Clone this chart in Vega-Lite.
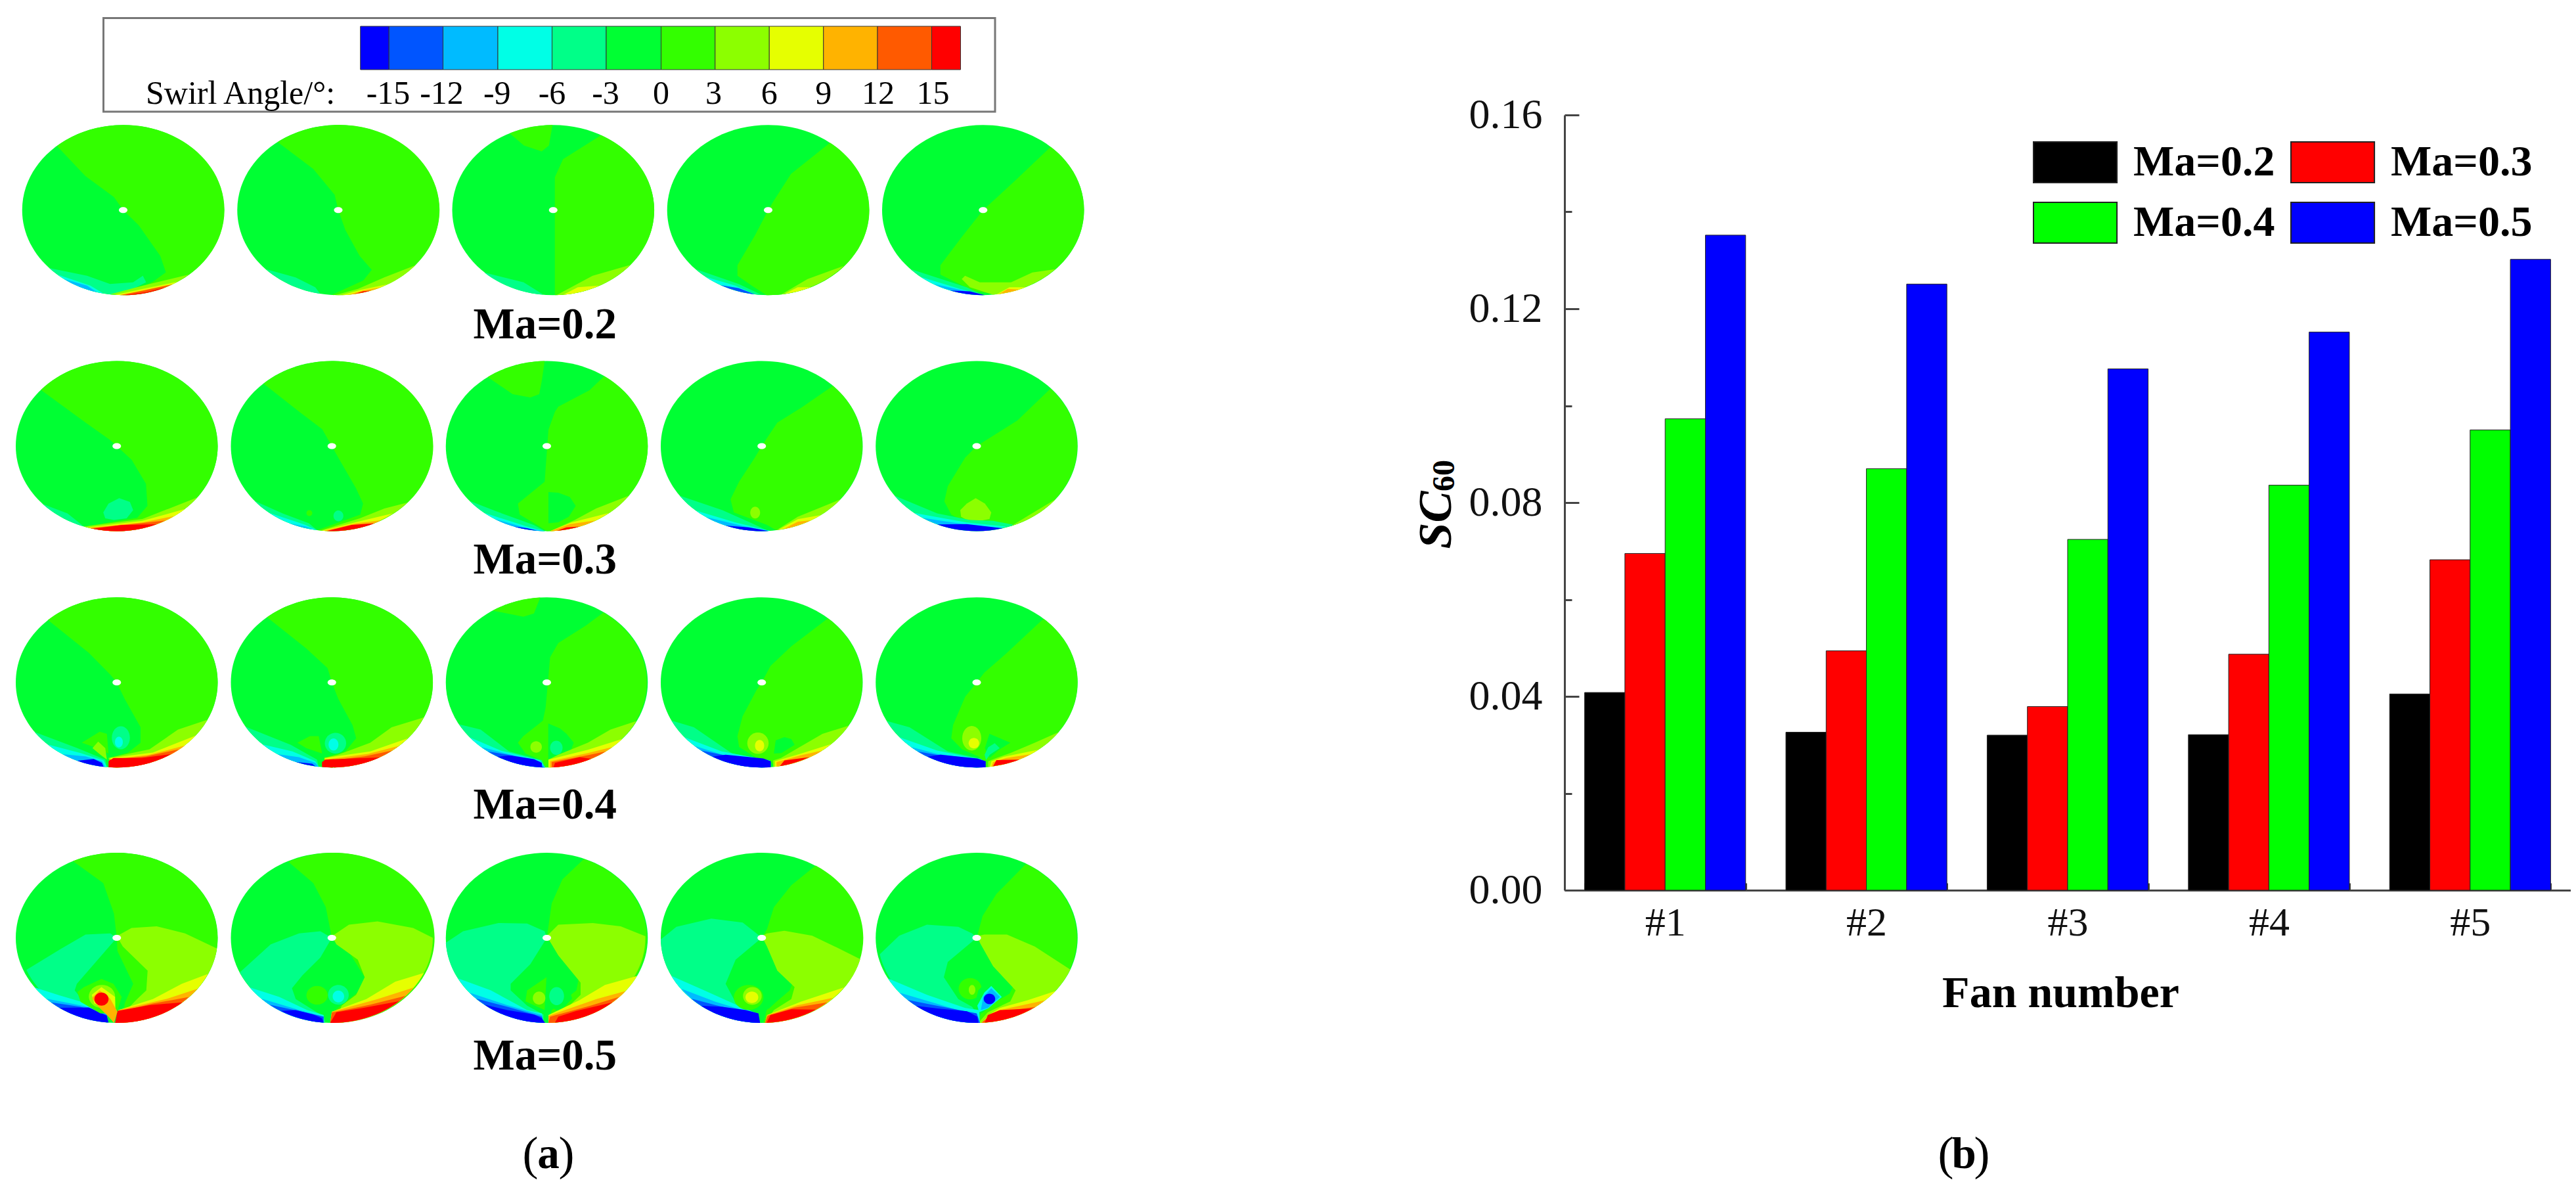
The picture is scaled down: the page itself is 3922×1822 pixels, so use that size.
{"$schema":"https://vega.github.io/schema/vega-lite/v6.json","background":"white","padding":0,"bounds":"flush","spacing":682,
"resolve":{"scale":{"color":"independent"}},
"config":{"view":{"stroke":null},"font":"Liberation Serif"},
"datasets":{
"panels":[{"x":75,"y":127.9},{"x":206,"y":127.9},{"x":336.9,"y":127.9},{"x":467.8,"y":127.9},{"x":598.7,"y":127.9},{"x":71.1,"y":271.6},{"x":202.1,"y":271.6},{"x":333,"y":271.6},{"x":463.9,"y":271.6},{"x":594.8,"y":271.6},{"x":71.1,"y":415.5},{"x":202.1,"y":415.5},{"x":333,"y":415.5},{"x":463.9,"y":415.5},{"x":594.8,"y":415.5},{"x":71.1,"y":571},{"x":202.1,"y":571},{"x":333,"y":571},{"x":463.9,"y":571},{"x":594.8,"y":571}],
"bar":[{"x":219.5,"x2":236.9,"y":16,"y2":42.4,"v":-16},{"x":236.9,"x2":269.8,"y":16,"y2":42.4,"v":-13.5},{"x":269.8,"x2":303.2,"y":16,"y2":42.4,"v":-10.5},{"x":303.2,"x2":336.2,"y":16,"y2":42.4,"v":-7.5},{"x":336.2,"x2":369.2,"y":16,"y2":42.4,"v":-4.5},{"x":369.2,"x2":402.6,"y":16,"y2":42.4,"v":-1.5},{"x":402.6,"x2":435.5,"y":16,"y2":42.4,"v":1.5},{"x":435.5,"x2":468.5,"y":16,"y2":42.4,"v":4.5},{"x":468.5,"x2":501.5,"y":16,"y2":42.4,"v":7.5},{"x":501.5,"x2":534.4,"y":16,"y2":42.4,"v":10.5},{"x":534.4,"x2":567.4,"y":16,"y2":42.4,"v":13.5},{"x":567.4,"x2":585,"y":16,"y2":42.4,"v":16}],
"regions":[
{"x":75,"y":127.9,"v":1.5,"d":"M-40.3 -39A61.5 51.8 0 1 1 0 51.8L18.2 43.6L26 37.9L22.6 27.9L9.5 9.3L0 0L-5.6 -7.9L-23 -20.7Z"},
{"x":75,"y":127.9,"v":-4.5,"d":"M-45 35.3A61.5 51.8 0 0 0 -4 51.7L6 48L14 44L12 40L6 44L-8 45L-22 40Z"},
{"x":75,"y":127.9,"v":-7.5,"d":"M-40 39.3A61.5 51.8 0 0 0 -12 50.8L-20 46Z"},
{"x":75,"y":127.9,"v":-10.5,"d":"M-36 42A61.5 51.8 0 0 0 -16 50L-22 46Z"},
{"x":75,"y":127.9,"v":4.5,"d":"M40 39.3A61.5 51.8 0 0 1 -8 51.3L12 46Z"},
{"x":75,"y":127.9,"v":7.5,"d":"M33 43.7A61.5 51.8 0 0 1 -5 51.6L12 48Z"},
{"x":75,"y":127.9,"v":13.5,"d":"M30 45.2A61.5 51.8 0 0 1 -2 51.8L12 49Z"},
{"x":75,"y":127.9,"v":16,"d":"M26 47A61.5 51.8 0 0 1 1 51.8L14 50Z"},
{"x":206,"y":127.9,"v":1.5,"d":"M-36.9 -41.4A61.5 51.8 0 1 1 -4 51.6L15.2 42.9L20.4 36.4L13 27.9L4.3 12.1L0 0L-2.2 -9.3L-15.2 -25Z"},
{"x":206,"y":127.9,"v":-4.5,"d":"M-44 36A61.5 51.8 0 0 0 -11 51L-14 47L-26 41Z"},
{"x":206,"y":127.9,"v":4.5,"d":"M47 33.6A61.5 51.8 0 0 1 -2 51.8L12 48L28 41Z"},
{"x":206,"y":127.9,"v":7.5,"d":"M30 45.2A61.5 51.8 0 0 1 2 51.8L14 48.5Z"},
{"x":206,"y":127.9,"v":10.5,"d":"M26 47A61.5 51.8 0 0 1 6 51.6L15 49Z"},
{"x":206,"y":127.9,"v":16,"d":"M20 49A61.5 51.8 0 0 1 10 51L15 49.5Z"},
{"x":336.9,"y":127.9,"v":1.5,"d":"M29.2 -45.6A61.5 51.8 0 0 1 1 51.8L1 10L1 -20L6 -31Z"},
{"x":336.9,"y":127.9,"v":1.5,"d":"M-26.5 -46.7A61.5 51.8 0 0 1 -.4 -51.8L-2.6 -39.3L-7 -35.7L-17.8 -39.3Z"},
{"x":336.9,"y":127.9,"v":-4.5,"d":"M-42 38A61.5 51.8 0 0 0 -6 51.5L-18 44Z"},
{"x":336.9,"y":127.9,"v":4.5,"d":"M47 33.4A61.5 51.8 0 0 1 2 51.8L24 40Z"},
{"x":336.9,"y":127.9,"v":7.5,"d":"M28 46A61.5 51.8 0 0 1 6 51.6L15 47Z"},
{"x":467.8,"y":127.9,"v":1.5,"d":"M37.7 -41A61.5 51.8 0 0 1 -1 51.8L-10 46L-18.7 40L-18.7 33.6L-7.8 15L0 0L3 -5L13.9 -22Z"},
{"x":467.8,"y":127.9,"v":-4.5,"d":"M-44 36A61.5 51.8 0 0 0 -4 51.6L-18 45Z"},
{"x":467.8,"y":127.9,"v":-7.5,"d":"M-38 40.7A61.5 51.8 0 0 0 -8 51.3L-20 46Z"},
{"x":467.8,"y":127.9,"v":-13.5,"d":"M-29 45.7A61.5 51.8 0 0 0 -8 51.3L-18 47.5Z"},
{"x":467.8,"y":127.9,"v":4.5,"d":"M46 34A61.5 51.8 0 0 1 8 51.4L24 42Z"},
{"x":467.8,"y":127.9,"v":7.5,"d":"M26 47A61.5 51.8 0 0 1 10 51L18 47Z"},
{"x":598.7,"y":127.9,"v":1.5,"d":"M41.2 -38.5A61.5 51.8 0 0 1 8 51.3L-6 49.3L-26 39.3L-26 33.6L-13 16.4L0 0L19.5 -17.9Z"},
{"x":598.7,"y":127.9,"v":4.5,"d":"M44 36A61.5 51.8 0 0 1 6 51.5L-8 47L-13 42L-11 40L-2 44L17 44L30 38Z"},
{"x":598.7,"y":127.9,"v":-4.5,"d":"M-44 36A61.5 51.8 0 0 0 0 51.8L-10 47Z"},
{"x":598.7,"y":127.9,"v":-7.5,"d":"M-38 40.7A61.5 51.8 0 0 0 0 51.8L-14 48Z"},
{"x":598.7,"y":127.9,"v":-10.5,"d":"M-30 45A61.5 51.8 0 0 0 0 51.8L-12 49Z"},
{"x":598.7,"y":127.9,"v":-16,"d":"M-20 49A61.5 51.8 0 0 0 1 51.8L-8 49.5Z"},
{"x":598.7,"y":127.9,"v":7.5,"d":"M26 47A61.5 51.8 0 0 1 8 51.4L16 47Z"},
{"x":598.7,"y":127.9,"v":10.5,"d":"M22 48.4A61.5 51.8 0 0 1 10 51L15 48Z"},

{"x":71.1,"y":271.6,"v":1.5,"d":"M-46.2 -34.2A61.5 51.8 0 1 1 -20 49L12.4 43.7L18.7 36.4L17.8 23L9.1 8.4L0 0L-3.9 -3.6L-19 -14.3Z"},
{"x":71.1,"y":271.6,"v":-4.5,"d":"M1.5 31.7L-5 35L-8.2 40.4L-7 44L-1.7 45L6 44L10 39L8 34Z"},
{"x":71.1,"y":271.6,"v":-4.5,"d":"M-45 35.3A61.5 51.8 0 0 0 -20 49L-30 41Z"},
{"x":71.1,"y":271.6,"v":4.5,"d":"M49 31.3A61.5 51.8 0 0 1 -20 49L15.6 44.4Z"},
{"x":71.1,"y":271.6,"v":7.5,"d":"M41.6 38.3A61.5 51.8 0 0 1 -18 49.5L15.6 45.5Z"},
{"x":71.1,"y":271.6,"v":10.5,"d":"M35 42.6A61.5 51.8 0 0 1 -17 49.8L15.6 46.5Z"},
{"x":71.1,"y":271.6,"v":13.5,"d":"M29.7 45.3A61.5 51.8 0 0 1 -16 50L13.4 47.1Z"},
{"x":71.1,"y":271.6,"v":16,"d":"M24.3 47.6A61.5 51.8 0 0 1 -14.3 50.4L2.6 48.1Z"},
{"x":202.1,"y":271.6,"v":1.5,"d":"M-41.6 -38A61.5 51.8 0 1 1 -9 51.2L17.3 41.7L19 35L14.7 25.7L3.9 7L0 0L-5.9 -10.3L-20 -21Z"},
{"x":202.1,"y":271.6,"v":-4.5,"d":"M1 42.5A3 3.3 0 1 1 7 42.5A3 3.3 0 1 1 1 42.5Z"},
{"x":202.1,"y":271.6,"v":1.5,"d":"M-15.5 40.8A1.8 1.8 0 1 1 -11.9 40.8A1.8 1.8 0 1 1 -15.5 40.8Z"},
{"x":202.1,"y":271.6,"v":-4.5,"d":"M-47 33.4A61.5 51.8 0 0 0 -9 51.2L-14 47L-30 41Z"},
{"x":202.1,"y":271.6,"v":-7.5,"d":"M-38 40.7A61.5 51.8 0 0 0 -9 51.2L-16 48Z"},
{"x":202.1,"y":271.6,"v":-10.5,"d":"M-26 47A61.5 51.8 0 0 0 -11 50.6L-16 49Z"},
{"x":202.1,"y":271.6,"v":4.5,"d":"M46 34.4A61.5 51.8 0 0 1 -7 51.4L17 44L32 38Z"},
{"x":202.1,"y":271.6,"v":7.5,"d":"M37 41A61.5 51.8 0 0 1 -6 51.5L16 46Z"},
{"x":202.1,"y":271.6,"v":10.5,"d":"M30 45.2A61.5 51.8 0 0 1 -5 51.6L15 47Z"},
{"x":202.1,"y":271.6,"v":16,"d":"M26 47A61.5 51.8 0 0 1 -3 51.7L12 48Z"},
{"x":333,"y":271.6,"v":1.5,"d":"M35 -42.6A61.5 51.8 0 0 1 0 51.8L-6 48L-16.5 41.7L-17.6 35L-7.8 27L-1.3 21.7L1 -10L5 -21L7 -24L26 -34Z"},
{"x":333,"y":271.6,"v":1.5,"d":"M-36 -42A61.5 51.8 0 0 1 -1.3 -51.8L-3 -40L-4.6 -31.6L-10 -29.6L-20.8 -31.6Z"},
{"x":333,"y":271.6,"v":-1.5,"d":"M1 28L7 28.4L14 31L17.6 36.4L13.4 43L7 46.4L1 47Z"},
{"x":333,"y":271.6,"v":-4.5,"d":"M-47 33.4A61.5 51.8 0 0 0 -1 51.8L-8 48L-30 40Z"},
{"x":333,"y":271.6,"v":-7.5,"d":"M-38 40.7A61.5 51.8 0 0 0 -1 51.8L-12 49Z"},
{"x":333,"y":271.6,"v":-10.5,"d":"M-32 44.3A61.5 51.8 0 0 0 -1 51.8L-12 50Z"},
{"x":333,"y":271.6,"v":-16,"d":"M-20 49A61.5 51.8 0 0 0 -6 51.5L-12 50Z"},
{"x":333,"y":271.6,"v":4.5,"d":"M50 30.2A61.5 51.8 0 0 1 2 51.8L17 45L30 38Z"},
{"x":333,"y":271.6,"v":7.5,"d":"M38 40.7A61.5 51.8 0 0 1 2 51.8L15 46.5Z"},
{"x":333,"y":271.6,"v":10.5,"d":"M30 45.2A61.5 51.8 0 0 1 2 51.8L14 47.5Z"},
{"x":333,"y":271.6,"v":16,"d":"M20 49A61.5 51.8 0 0 1 6 51.6L12 49.5Z"},
{"x":463.9,"y":271.6,"v":1.5,"d":"M43.4 -36.7A61.5 51.8 0 0 1 8.5 51.1L3.2 48L-17 40.4L-19 32.4L-13.8 21.7L-4.2 7L0 0L3.2 -4.9L9.5 -14.3L24.4 -23.6Z"},
{"x":463.9,"y":271.6,"v":4.5,"d":"M-7 40.5A3 3.6 0 1 1 -1 40.5A3 3.6 0 1 1 -7 40.5Z"},
{"x":463.9,"y":271.6,"v":-4.5,"d":"M-50 30.2A61.5 51.8 0 0 0 4 51.7L-6 47L-24 39Z"},
{"x":463.9,"y":271.6,"v":-7.5,"d":"M-40 39.3A61.5 51.8 0 0 0 5 51.6L-16 46.5Z"},
{"x":463.9,"y":271.6,"v":-10.5,"d":"M-34 43.2A61.5 51.8 0 0 0 5 51.6L-10 49Z"},
{"x":463.9,"y":271.6,"v":-16,"d":"M-22 48.4A61.5 51.8 0 0 0 4 51.7L-8 49.5Z"},
{"x":463.9,"y":271.6,"v":4.5,"d":"M48 32.4A61.5 51.8 0 0 1 9 51.2L22 43Z"},
{"x":463.9,"y":271.6,"v":7.5,"d":"M36 42A61.5 51.8 0 0 1 10 51L22 44.5Z"},
{"x":463.9,"y":271.6,"v":10.5,"d":"M30 45.2A61.5 51.8 0 0 1 13 50.6L22 46Z"},
{"x":594.8,"y":271.6,"v":1.5,"d":"M45 -35A61.5 51.8 0 0 1 21 48.7L-7 46.4L-15.5 41.7L-19.7 33.7L-17.6 24.4L-7 7L0 0L5.7 -3.6L24.8 -15.6Z"},
{"x":594.8,"y":271.6,"v":4.5,"d":"M-.6 31.7L-6 35L-10 39L-9.5 43L-6 45L2 45.5L7.8 44.4L8.9 40.4L5 35Z"},
{"x":594.8,"y":271.6,"v":-4.5,"d":"M-50 30.2A61.5 51.8 0 0 0 23 48L10 45.5L-4 45L-24 41Z"},
{"x":594.8,"y":271.6,"v":-7.5,"d":"M-38 40.7A61.5 51.8 0 0 0 18 49L-6 46.5L-20 44Z"},
{"x":594.8,"y":271.6,"v":-10.5,"d":"M-33 43.7A61.5 51.8 0 0 0 14 50L-8 47.5Z"},
{"x":594.8,"y":271.6,"v":-16,"d":"M-24 47.7A61.5 51.8 0 0 0 16 50L-6 47.5Z"},
{"x":594.8,"y":271.6,"v":4.5,"d":"M48 32.4A61.5 51.8 0 0 1 21 48.7L32 42Z"},

{"x":71.1,"y":415.5,"v":1.5,"d":"M-41.9 -38A61.5 51.8 0 1 1 -5 51.6L-5 46L6.9 42.7L14.5 36.7L14.5 27.3L4.8 10L0 0L-3.9 -4.7L-17 -18Z"},
{"x":71.1,"y":415.5,"v":-4.5,"d":"M-3 33.7A5.5 7 0 1 1 8 33.7A5.5 7 0 1 1 -3 33.7Z"},
{"x":71.1,"y":415.5,"v":-7.5,"d":"M-1.1 36.3A2.4 3.3 0 1 1 3.7 36.3A2.4 3.3 0 1 1 -1.1 36.3Z"},
{"x":71.1,"y":415.5,"v":1.5,"d":"M-21.3 36.7L-10.4 30L-6 31.3L-5 43.3L-14 39.3Z"},
{"x":71.1,"y":415.5,"v":4.5,"d":"M-11.3 36L-14.8 40L-10 44L-6 47L-7 40Z"},
{"x":71.1,"y":415.5,"v":4.5,"d":"M55.3 22.7A61.5 51.8 0 0 1 -3 51.7L-5 46L20 40.7L37.3 28.7Z"},
{"x":71.1,"y":415.5,"v":7.5,"d":"M48 32.4A61.5 51.8 0 0 1 -3 51.7L-4 46L22 42.7Z"},
{"x":71.1,"y":415.5,"v":10.5,"d":"M41.6 38.4A61.5 51.8 0 0 1 -3 51.7L-4 47L20 44Z"},
{"x":71.1,"y":415.5,"v":13.5,"d":"M38 40.7A61.5 51.8 0 0 1 -4 51.7L-4.5 47L18 45Z"},
{"x":71.1,"y":415.5,"v":16,"d":"M33 43.7A61.5 51.8 0 0 1 -5 51.6L-5 48L-2 46L15 46Z"},
{"x":71.1,"y":415.5,"v":-4.5,"d":"M-50 30.2A61.5 51.8 0 0 0 -6 51.5L-7 47L-24 40Z"},
{"x":71.1,"y":415.5,"v":-7.5,"d":"M-42 37.8A61.5 51.8 0 0 0 -6 51.5L-8 47.5L-22 43Z"},
{"x":71.1,"y":415.5,"v":-10.5,"d":"M-33 43.7A61.5 51.8 0 0 0 -7 51.5L-9 48L-19 45Z"},
{"x":71.1,"y":415.5,"v":-16,"d":"M-24 47.7A61.5 51.8 0 0 0 -8 51.4L-9 49L-14 46.6Z"},
{"x":202.1,"y":415.5,"v":1.5,"d":"M-39.5 -39.7A61.5 51.8 0 1 1 -5 51.6L-4.8 46L8.2 42L14.8 34L12.6 26L3.9 10L0 0L-2.6 -8.7L-15.6 -20.7Z"},
{"x":202.1,"y":415.5,"v":-4.5,"d":"M-4.3 37A6.5 6.3 0 1 1 8.7 37A6.5 6.3 0 1 1 -4.3 37Z"},
{"x":202.1,"y":415.5,"v":-7.5,"d":"M-2 37.8A3 3.7 0 1 1 4 37.8A3 3.7 0 1 1 -2 37.8Z"},
{"x":202.1,"y":415.5,"v":1.5,"d":"M-21 36.7L-13.4 32.7L-8 32.7L-5.9 43.3L-15.6 40Z"},
{"x":202.1,"y":415.5,"v":4.5,"d":"M56 21.3A61.5 51.8 0 0 1 -3 51.7L-4.5 46L3.9 44L23.4 36.7L36.4 27.3Z"},
{"x":202.1,"y":415.5,"v":7.5,"d":"M46.3 34A61.5 51.8 0 0 1 -3 51.7L-4.5 46L23.4 42Z"},
{"x":202.1,"y":415.5,"v":10.5,"d":"M41 38.6A61.5 51.8 0 0 1 -3 51.7L-4.5 47L22 43.5Z"},
{"x":202.1,"y":415.5,"v":13.5,"d":"M37 41.4A61.5 51.8 0 0 1 -3 51.7L-5 48L20 45Z"},
{"x":202.1,"y":415.5,"v":16,"d":"M29 45.7A61.5 51.8 0 0 1 -6 51.5L-6 48.5L-4 47L12 46.3Z"},
{"x":202.1,"y":415.5,"v":-4.5,"d":"M-52.5 27A61.5 51.8 0 0 0 -8 51.4L-9 47L-25 38Z"},
{"x":202.1,"y":415.5,"v":-7.5,"d":"M-42 37.8A61.5 51.8 0 0 0 -8 51.4L-10 48L-24 42Z"},
{"x":202.1,"y":415.5,"v":-10.5,"d":"M-33 43.7A61.5 51.8 0 0 0 -8 51.4L-10 49L-20 45.5Z"},
{"x":202.1,"y":415.5,"v":-16,"d":"M-22 48.4A61.5 51.8 0 0 0 -10 51L-12 49.5Z"},
{"x":333,"y":415.5,"v":1.5,"d":"M-33 -43.7A61.5 51.8 0 0 1 -4 -51.7L-7.8 -42L-14.3 -40Z"},
{"x":333,"y":415.5,"v":1.5,"d":"M34.5 -42.6A61.5 51.8 0 0 1 -3 51.7L-3.5 47.3L-13 43.3L-17.6 36.7L-14.3 32.7L-2.4 23.3L-.7 15.3L2 -15.3L7 -24L23.9 -34.7Z"},
{"x":333,"y":415.5,"v":-1.5,"d":"M.9 25L8 28L12 31.3L16.4 36.7L14.4 42L7 46L.9 47Z"},
{"x":333,"y":415.5,"v":-4.5,"d":"M2 39.8A3.8 4.3 0 1 1 9.6 39.8A3.8 4.3 0 1 1 2 39.8Z"},
{"x":333,"y":415.5,"v":4.5,"d":"M-10 39.3A3.5 3.5 0 1 1 -3 39.3A3.5 3.5 0 1 1 -10 39.3Z"},
{"x":333,"y":415.5,"v":4.5,"d":"M54.6 23.5A61.5 51.8 0 0 1 1 51.8L1 47L7 44L25 36.7L38.8 28.7Z"},
{"x":333,"y":415.5,"v":7.5,"d":"M46 34.4A61.5 51.8 0 0 1 1 51.8L1 47L25 41Z"},
{"x":333,"y":415.5,"v":10.5,"d":"M40 39.3A61.5 51.8 0 0 1 2 51.8L2 48L25 43Z"},
{"x":333,"y":415.5,"v":13.5,"d":"M36 42A61.5 51.8 0 0 1 3 51.7L3 48.5L24 44.5Z"},
{"x":333,"y":415.5,"v":16,"d":"M27 46.5A61.5 51.8 0 0 1 4 51.7L5 49L20 45.5Z"},
{"x":333,"y":415.5,"v":-4.5,"d":"M-53.4 25.5A61.5 51.8 0 0 0 -1 51.8L-3 47.3L-23 42L-40.3 28.7Z"},
{"x":333,"y":415.5,"v":-7.5,"d":"M-47 33.4A61.5 51.8 0 0 0 -1 51.8L-4 47.5L-28 41.5Z"},
{"x":333,"y":415.5,"v":-10.5,"d":"M-40 39.3A61.5 51.8 0 0 0 -1 51.8L-4 48L-26 43Z"},
{"x":333,"y":415.5,"v":-13.5,"d":"M-36 42A61.5 51.8 0 0 0 -2 51.8L-5 48.5L-24 44Z"},
{"x":333,"y":415.5,"v":-16,"d":"M-30 45.2A61.5 51.8 0 0 0 -3 51.7L-3 49L-7.8 46.7L-22 44.5Z"},
{"x":463.9,"y":415.5,"v":1.5,"d":"M40.3 -39A61.5 51.8 0 0 1 8 51.3L5 47.3L-3.2 46L-13.8 39.3L-14.8 32.7L-11.7 20.7L-3.2 4.7L0 0L5.3 -10L18 -22Z"},
{"x":463.9,"y":415.5,"v":-1.5,"d":"M13.8 33.3L8.5 35.3L7.4 43.3L12 43L20 38L18 34.5Z"},
{"x":463.9,"y":415.5,"v":4.5,"d":"M-8.8 37A6.5 6.5 0 1 1 4.2 37A6.5 6.5 0 1 1 -8.8 37Z"},
{"x":463.9,"y":415.5,"v":7.5,"d":"M-4.1 38.5A2.8 3.5 0 1 1 1.5 38.5A2.8 3.5 0 1 1 -4.1 38.5Z"},
{"x":463.9,"y":415.5,"v":-4.5,"d":"M-55 23.2A61.5 51.8 0 0 0 5 51.6L5 47.5L-18 43.3L-41.3 27.3Z"},
{"x":463.9,"y":415.5,"v":-7.5,"d":"M-47 33.4A61.5 51.8 0 0 0 5 51.6L5 47.5L-24.4 42Z"},
{"x":463.9,"y":415.5,"v":-10.5,"d":"M-41 38.6A61.5 51.8 0 0 0 5 51.6L5 48L-24 44Z"},
{"x":463.9,"y":415.5,"v":-13.5,"d":"M-37 41.4A61.5 51.8 0 0 0 5 51.6L5 48L-22 44.5Z"},
{"x":463.9,"y":415.5,"v":-16,"d":"M-30 45.2A61.5 51.8 0 0 0 5.5 51.6L5.5 48L1 46.3L-22 44Z"},
{"x":463.9,"y":415.5,"v":4.5,"d":"M53 26.3A61.5 51.8 0 0 1 7 51.4L7 47.5L11.7 46L22 40L37 31.3Z"},
{"x":463.9,"y":415.5,"v":7.5,"d":"M42.4 37.5A61.5 51.8 0 0 1 8 51.4L8 48L24 43.3Z"},
{"x":463.9,"y":415.5,"v":10.5,"d":"M37 41.4A61.5 51.8 0 0 1 9 51.2L9 48.5L24 44.3Z"},
{"x":463.9,"y":415.5,"v":16,"d":"M29 45.5A61.5 51.8 0 0 1 11 51L13.8 47.5Z"},
{"x":594.8,"y":415.5,"v":1.5,"d":"M40.7 -38.8A61.5 51.8 0 0 1 6 51.5L1.5 45.3L-9 40.7L-15.5 34L-14.4 26L-7 8.7L0 0L4.7 -6L18.4 -18Z"},
{"x":594.8,"y":415.5,"v":4.5,"d":"M-8.8 34A5.8 7.5 0 1 1 2.8 34A5.8 7.5 0 1 1 -8.8 34Z"},
{"x":594.8,"y":415.5,"v":7.5,"d":"M-4.9 37A3.2 3.2 0 1 1 1.5 37A3.2 3.2 0 1 1 -4.9 37Z"},
{"x":594.8,"y":415.5,"v":-1.5,"d":"M7.8 31.3L20.5 36.7L14 40.7L7.8 46L5 40Z"},
{"x":594.8,"y":415.5,"v":-4.5,"d":"M11 37L14 40L8 44L5.7 47.3L4.8 44L7 39.5Z"},
{"x":594.8,"y":415.5,"v":-4.5,"d":"M-54.7 23.5A61.5 51.8 0 0 0 5 51.6L3 46.5L-17.6 42L-40.9 27.3Z"},
{"x":594.8,"y":415.5,"v":-7.5,"d":"M-47 33.4A61.5 51.8 0 0 0 5 51.6L3 47L-24 41.5Z"},
{"x":594.8,"y":415.5,"v":-10.5,"d":"M-40 39.3A61.5 51.8 0 0 0 5 51.6L4 47.5L-24 43.5Z"},
{"x":594.8,"y":415.5,"v":-13.5,"d":"M-36 42A61.5 51.8 0 0 0 5 51.6L4 48L-22 44.5Z"},
{"x":594.8,"y":415.5,"v":-16,"d":"M-30 45.2A61.5 51.8 0 0 0 5.5 51.6L5.5 48L.4 46.3L-22 44Z"},
{"x":594.8,"y":415.5,"v":4.5,"d":"M50 30.2A61.5 51.8 0 0 1 7 51.4L7 48L12 46L20.5 43L35.4 36.7Z"},
{"x":594.8,"y":415.5,"v":7.5,"d":"M37.5 41A61.5 51.8 0 0 1 8 51.4L9 48L16.3 45.3Z"},
{"x":594.8,"y":415.5,"v":10.5,"d":"M33 43.7A61.5 51.8 0 0 1 9 51.2L10 48.5L18 46Z"},
{"x":594.8,"y":415.5,"v":16,"d":"M26 47A61.5 51.8 0 0 1 10 51L12 47.3Z"},

{"x":71.1,"y":571,"v":1.5,"d":"M-26.7 -46.7A61.5 51.8 0 1 1 0 51.8L4 48L4.8 40L10 28L.4 8L0 0L-1.7 -14.7L-8.2 -33.3Z"},
{"x":71.1,"y":571,"v":4.5,"d":"M0 -1L9 -6L24.3 -7L41.6 -2.7L61 6.5A61.5 51.8 0 0 1 5 51.6L5 45L12.4 37.3L18 32L18.8 20L3.7 5.3Z"},
{"x":71.1,"y":571,"v":-4.5,"d":"M0 0L-3.9 -2.7L-19 -2L-34 6.7L-55 19.5A61.5 51.8 0 0 0 -6 51.5L-6 46.7L-17 42.7L-25.6 32L-24.3 28L-10.4 12Z"},
{"x":71.1,"y":571,"v":-7.5,"d":"M-50 30.2A61.5 51.8 0 0 0 -6 51.5L-6 46L-18 40L-35 35Z"},
{"x":71.1,"y":571,"v":-10.5,"d":"M-43 37A61.5 51.8 0 0 0 -6 51.5L-6 46.5L-20 41.5Z"},
{"x":71.1,"y":571,"v":-13.5,"d":"M-40 39.3A61.5 51.8 0 0 0 -6 51.5L-6 47L-22 42Z"},
{"x":71.1,"y":571,"v":-16,"d":"M-35 42.6A61.5 51.8 0 0 0 -5 51.6L-6 47.5L-9.3 46L-17 42.4Z"},
{"x":71.1,"y":571,"v":1.5,"d":"M-9.3 25L-20 30L-24 33L-22 39L-10 46L0 46L3 36L-2 28Z"},
{"x":71.1,"y":571,"v":4.5,"d":"M-17 35.7A8 7 0 1 1 -1 35.7A8 7 0 1 1 -17 35.7Z"},
{"x":71.1,"y":571,"v":7.5,"d":"M-9.3 30L-15.2 34.7L-13.7 40L-4 44L-.7 48L-1 36Z"},
{"x":71.1,"y":571,"v":7.5,"d":"M55.5 22A61.5 51.8 0 0 1 -1 51.8L1 44L22 37.3L39.6 28Z"},
{"x":71.1,"y":571,"v":10.5,"d":"M49.2 31A61.5 51.8 0 0 1 -1 51.8L1 44L31 37Z"},
{"x":71.1,"y":571,"v":13.5,"d":"M44 36A61.5 51.8 0 0 1 -1 51.8L1 45L22 40Z"},
{"x":71.1,"y":571,"v":16,"d":"M40 39.3A61.5 51.8 0 0 1 -1 51.8L.4 44.5L20 41Z"},
{"x":71.1,"y":571,"v":10.5,"d":"M-10.4 32L-15.2 36.7L-10.4 42.7L-5 48L-1.7 51.8L.4 45L-4 37Z"},
{"x":71.1,"y":571,"v":16,"d":"M-13.6 37.3A4.3 4 0 1 1 -5 37.3A4.3 4 0 1 1 -13.6 37.3Z"},
{"x":202.1,"y":571,"v":1.5,"d":"M-26.5 -46.3A61.5 51.8 0 1 1 0 51.8L2 44L16 33L20 24L10 8L0 0L-3.7 -18.7L-11.3 -33.3Z"},
{"x":202.1,"y":571,"v":4.5,"d":"M0 -1L10.4 -8L27.8 -10L49.5 -6L61.5 0A61.5 51.8 0 0 1 2 51.8L6 41.3L14.8 34.7L20 24L15.8 13.3L2.8 4Z"},
{"x":202.1,"y":571,"v":-4.5,"d":"M0 0L-7 -4L-20 -2.7L-37.3 4L-56 21A61.5 51.8 0 0 0 -4 51.7L-4.8 48L-11.3 44L-22 37.3L-24.3 30.7L-17.8 22.7L-7 12Z"},
{"x":202.1,"y":571,"v":-7.5,"d":"M-50 30.2A61.5 51.8 0 0 0 -5 51.6L-5 47L-15 44L-32 36Z"},
{"x":202.1,"y":571,"v":-10.5,"d":"M-43 37A61.5 51.8 0 0 0 -5 51.6L-5 48L-18 44.5Z"},
{"x":202.1,"y":571,"v":-13.5,"d":"M-38 40.7A61.5 51.8 0 0 0 -5 51.6L-5 48L-18 45Z"},
{"x":202.1,"y":571,"v":-16,"d":"M-31 44.5A61.5 51.8 0 0 0 -5 51.6L-6 49L-11.3 46.7L-22 44Z"},
{"x":202.1,"y":571,"v":1.5,"d":"M-15.5 35A6.5 5.7 0 1 1 -2.5 35A6.5 5.7 0 1 1 -15.5 35Z"},
{"x":202.1,"y":571,"v":-4.5,"d":"M-2.3 34.7A6.3 6 0 1 1 10.3 34.7A6.3 6 0 1 1 -2.3 34.7Z"},
{"x":202.1,"y":571,"v":-7.5,"d":"M.5 35.7A3.5 3.6 0 1 1 7.5 35.7A3.5 3.6 0 1 1 .5 35.7Z"},
{"x":202.1,"y":571,"v":7.5,"d":"M56 21.4A61.5 51.8 0 0 1 -1 51.8L0 45L21 37.3L38.6 26.7Z"},
{"x":202.1,"y":571,"v":10.5,"d":"M50 30.2A61.5 51.8 0 0 1 -1 51.8L0 45L27.8 37.3Z"},
{"x":202.1,"y":571,"v":13.5,"d":"M45 35.3A61.5 51.8 0 0 1 -1 51.8L0 45.5L23.4 40.7Z"},
{"x":202.1,"y":571,"v":16,"d":"M41 38.6A61.5 51.8 0 0 1 -1 51.8L2.8 45.3L19 42.7Z"},
{"x":333,"y":571,"v":1.5,"d":"M22.6 -48A61.5 51.8 0 0 1 1 51.8L3 44L18 32L20 22L8 10L0 0L3 -21L9.5 -35.6Z"},
{"x":333,"y":571,"v":4.5,"d":"M0 -1L7 -8L28 -9L45 -7L60 -1A61.5 51.8 0 0 1 1 51.8L5 46L11 44L20.6 34.7L20.6 27.3L7 10.7Z"},
{"x":333,"y":571,"v":-4.5,"d":"M0 0L-1.3 -4L-12 -8.7L-29.5 -9L-51 -4L-61.5 3A61.5 51.8 0 0 0 -2 51.8L-2 46.7L-12 41.3L-22 32L-22 28L-10 16Z"},
{"x":333,"y":571,"v":-7.5,"d":"M-54 24.7A61.5 51.8 0 0 0 -2 51.8L-3 46L-12 44L-34 32Z"},
{"x":333,"y":571,"v":-10.5,"d":"M-47 33.4A61.5 51.8 0 0 0 -2 51.8L-3 47L-24 41Z"},
{"x":333,"y":571,"v":-13.5,"d":"M-43 37A61.5 51.8 0 0 0 -2 51.8L-3 48L-24 42Z"},
{"x":333,"y":571,"v":-16,"d":"M-38 40.7A61.5 51.8 0 0 0 -1 51.8L-3 49L-7.8 46.7L-24 44Z"},
{"x":333,"y":571,"v":1.5,"d":"M-.2 24L-12 32L-13 38.7L-1.3 44Z"},
{"x":333,"y":571,"v":4.5,"d":"M-8.5 36.7A3.8 4 0 1 1 -.9 36.7A3.8 4 0 1 1 -8.5 36.7Z"},
{"x":333,"y":571,"v":-1.5,"d":"M5 25L0 34L2 42L8 45L15.4 37L13 29Z"},
{"x":333,"y":571,"v":-4.5,"d":"M1.5 35.5A4.5 5.5 0 1 1 10.5 35.5A4.5 5.5 0 1 1 1.5 35.5Z"},
{"x":333,"y":571,"v":7.5,"d":"M55 23.2A61.5 51.8 0 0 1 1 51.8L1 47L19.8 38L35.4 28.7Z"},
{"x":333,"y":571,"v":10.5,"d":"M48 32.4A61.5 51.8 0 0 1 1 51.8L1 47.5L30.2 37.3Z"},
{"x":333,"y":571,"v":13.5,"d":"M44 36A61.5 51.8 0 0 1 1 51.8L2 48L26 41.5Z"},
{"x":333,"y":571,"v":16,"d":"M40 39.3A61.5 51.8 0 0 1 5 51.6L7 48L18 44.5Z"},
{"x":463.9,"y":571,"v":1.5,"d":"M32.8 -44A61.5 51.8 0 0 1 1 51.8L3 44L17 32L20 24L8 6L0 0L3.2 -5.3L7.4 -18.7L18 -32Z"},
{"x":463.9,"y":571,"v":4.5,"d":"M0 -1L3.2 -2.7L13.8 -4.3L30.7 -1.3L46 6L60 13A61.5 51.8 0 0 1 2 51.8L7.4 44L18 37.3L20 30L9.5 20L3.2 5.3Z"},
{"x":463.9,"y":571,"v":-4.5,"d":"M0 0L-3.2 -2.7L-11.6 -9.3L-30.7 -11.7L-52 -6.7L-61.5 1A61.5 51.8 0 0 0 -1 51.8L-3.2 46.7L-15.9 39.3L-22 28L-15.9 13.3Z"},
{"x":463.9,"y":571,"v":-7.5,"d":"M-55 23.2A61.5 51.8 0 0 0 -1 51.8L-3 46L-15 41L-35 32Z"},
{"x":463.9,"y":571,"v":-10.5,"d":"M-49 31A61.5 51.8 0 0 0 -1 51.8L-3 46.5L-28 39Z"},
{"x":463.9,"y":571,"v":-13.5,"d":"M-43 37A61.5 51.8 0 0 0 -1 51.8L-3 47L-28 41Z"},
{"x":463.9,"y":571,"v":-16,"d":"M-37 41.4A61.5 51.8 0 0 0 -1 51.8L-2 46L-9.5 44L-24 42Z"},
{"x":463.9,"y":571,"v":1.5,"d":"M-17 36.3A9 7.6 0 1 1 1 36.3A9 7.6 0 1 1 -17 36.3Z"},
{"x":463.9,"y":571,"v":4.5,"d":"M-11.4 35.4A5.7 5.4 0 1 1 0 35.4A5.7 5.4 0 1 1 -11.4 35.4Z"},
{"x":463.9,"y":571,"v":7.5,"d":"M-9.9 36.2A3.9 3.5 0 1 1 -2.1 36.2A3.9 3.5 0 1 1 -9.9 36.2Z"},
{"x":463.9,"y":571,"v":-1.5,"d":"M6.4 30L3.2 34.7L4.2 43.3L11.6 36Z"},
{"x":463.9,"y":571,"v":7.5,"d":"M50 30.2A61.5 51.8 0 0 1 2 51.8L3.2 47L24.4 38.7Z"},
{"x":463.9,"y":571,"v":10.5,"d":"M43.4 36.5A61.5 51.8 0 0 1 2 51.8L3.5 47L22 41Z"},
{"x":463.9,"y":571,"v":13.5,"d":"M40 39.3A61.5 51.8 0 0 1 2 51.8L3.5 47.5L20 42.5Z"},
{"x":463.9,"y":571,"v":16,"d":"M33 43.7A61.5 51.8 0 0 1 3 51.7L5.3 47L18 43.5Z"},
{"x":594.8,"y":571,"v":1.5,"d":"M30 -45A61.5 51.8 0 0 1 1 51.8L3 44L20 34L24 26L8 6L0 0L3.6 -13.3L12 -26.7Z"},
{"x":594.8,"y":571,"v":4.5,"d":"M0 -1L4.7 -2L18.4 -2L35.4 5.3L57 19.3A61.5 51.8 0 0 1 1 51.8L6.8 45.3L20.5 38.7L23.7 32L10 17.3L2.5 4Z"},
{"x":594.8,"y":571,"v":-4.5,"d":"M0 0L-2.8 -2.7L-11.2 -6.7L-30.3 -8L-47.2 -1.3L-59 10A61.5 51.8 0 0 0 2 51.8L0 46L-2.8 42L-11.2 37.3L-20 24L-17.6 14.7Z"},
{"x":594.8,"y":571,"v":-7.5,"d":"M-54 24.7A61.5 51.8 0 0 0 2 51.8L1.5 44L-7 42.7L-30.3 34.7Z"},
{"x":594.8,"y":571,"v":-10.5,"d":"M-47 33.4A61.5 51.8 0 0 0 2 51.8L0 46L-9 44.7L-28 39Z"},
{"x":594.8,"y":571,"v":-13.5,"d":"M-42 37.8A61.5 51.8 0 0 0 2 51.8L0 46L-26 41Z"},
{"x":594.8,"y":571,"v":-16,"d":"M-37 41.4A61.5 51.8 0 0 0 1 51.8L.4 48L-5.9 44.7L-24 43Z"},
{"x":594.8,"y":571,"v":1.5,"d":"M-11 31A7 6.5 0 1 1 3 31A7 6.5 0 1 1 -11 31Z"},
{"x":594.8,"y":571,"v":4.5,"d":"M-4.8 31.7A2 3 0 1 1 -.8 31.7A2 3 0 1 1 -4.8 31.7Z"},
{"x":594.8,"y":571,"v":-1.5,"d":"M7.8 25L1 32L-1 40L3 46L9 41L17 34L14 28Z"},
{"x":594.8,"y":571,"v":-7.5,"d":"M8.9 29.3L4.7 33.3L.4 41.3L1.5 45.3L7 43L15.3 36Z"},
{"x":594.8,"y":571,"v":-10.5,"d":"M8.9 30.7L4 36L2.5 44L6.8 42.7L14.2 36Z"},
{"x":594.8,"y":571,"v":-16,"d":"M4.3 37.2A3.5 3.2 0 1 1 11.3 37.2A3.5 3.2 0 1 1 4.3 37.2Z"},
{"x":594.8,"y":571,"v":7.5,"d":"M48 32.4A61.5 51.8 0 0 1 3 51.7L7.8 46.7L14.2 42.7L31 38Z"},
{"x":594.8,"y":571,"v":10.5,"d":"M41.7 38A61.5 51.8 0 0 1 3 51.7L7.8 47L14 44Z"},
{"x":594.8,"y":571,"v":13.5,"d":"M36 42A61.5 51.8 0 0 1 3 51.7L8 47.5L14 45Z"},
{"x":594.8,"y":571,"v":16,"d":"M34 43A61.5 51.8 0 0 1 5 51.6L6.8 47L14.2 44Z"}
]},
"hconcat":[
{"width":1700,"height":1180,
"encoding":{"x":{"field":"x","type":"quantitative","scale":{"domain":[0,680],"nice":false,"zero":false},"axis":null},"y":{"field":"y","type":"quantitative","scale":{"domain":[70,542],"nice":false,"zero":false,"reverse":true},"axis":null}},
"layer":[
{"data":{"values":[{"x":0,"x2":680,"y":0,"y2":728.8}]},"mark":{"type":"rect","fill":"white"},"encoding":{"x2":{"field":"x2"},"y2":{"field":"y2"}}},
{"data":{"values":[{"x":63,"x2":606,"y":11,"y2":68}]},"mark":{"type":"rect","fill":"white","stroke":"#777","strokeWidth":3},"encoding":{"x2":{"field":"x2"},"y2":{"field":"y2"}}},
{"data":{"name":"bar"},"mark":{"type":"rect","stroke":"#333","strokeWidth":1},"encoding":{"x2":{"field":"x2"},"y2":{"field":"y2"},"color":{"field":"v","type":"ordinal","legend":null,"scale":{"domain":[-16,-13.5,-10.5,-7.5,-4.5,-1.5,1.5,4.5,7.5,10.5,13.5,16],"range":["#0000ff","#0055ff","#00bbff","#00ffe6","#00ff88","#00ff33","#33ff00","#8cff00","#e6ff00","#ffb300","#ff5a00","#ff0000"]}}}},
{"data":{"name":"panels"},"mark":{"type":"point","filled":true,"opacity":1,"strokeWidth":0,"color":"#00ff33","size":94556,"shape":"M-1 0A1 .842 0 1 1 1 0A1 .842 0 1 1 -1 0Z"}},
{"data":{"name":"regions"},"mark":{"type":"point","filled":true,"opacity":1,"strokeWidth":0,"size":25},"encoding":{"shape":{"field":"d","type":"nominal","scale":null,"legend":null},"color":{"field":"v","type":"ordinal","legend":null}}},
{"data":{"name":"panels"},"mark":{"type":"point","filled":true,"opacity":1,"strokeWidth":0,"color":"white","size":170,"shape":"M-1 0A1 .7 0 1 1 1 0A1 .7 0 1 1 -1 0Z"}},
{"data":{"values":[{"x":146.4,"y":57,"t":"Swirl Angle/°:"},{"x":236.4,"y":57,"t":"-15"},{"x":269,"y":57,"t":"-12"},{"x":302.7,"y":57,"t":"-9"},{"x":336.2,"y":57,"t":"-6"},{"x":368.8,"y":57,"t":"-3"},{"x":402.6,"y":57,"t":"0"},{"x":434.6,"y":57,"t":"3"},{"x":468.5,"y":57,"t":"6"},{"x":501.5,"y":57,"t":"9"},{"x":534.8,"y":57,"t":"12"},{"x":568.2,"y":57,"t":"15"}]},"mark":{"type":"text","font":"Liberation Serif","fontSize":50,"color":"black","align":"center","baseline":"middle"},"encoding":{"text":{"field":"t"}}},
{"data":{"values":[{"x":331.9,"y":198,"t":"Ma=0.2"},{"x":331.9,"y":341,"t":"Ma=0.3"},{"x":331.9,"y":490.5,"t":"Ma=0.4"},{"x":331.9,"y":643,"t":"Ma=0.5"},{"x":334,"y":703,"t":"a"},{"x":1196,"y":703,"t":"b"}]},"mark":{"type":"text","font":"Liberation Serif","fontSize":67,"fontWeight":"bold","color":"black","align":"center","baseline":"middle"},"encoding":{"text":{"field":"t"}}},
{"data":{"values":[{"x":323,"y":703,"t":"("},{"x":345,"y":703,"t":")"},{"x":1185,"y":703,"t":"("},{"x":1207,"y":703,"t":")"}]},"mark":{"type":"text","font":"Liberation Serif","fontSize":72,"color":"black","align":"center","baseline":"middle"},"encoding":{"text":{"field":"t"}}},
{"data":{"values":[{"x":880,"y":289.6,"t":"60"}]},"mark":{"type":"text","font":"Liberation Serif","fontSize":48,"fontWeight":"bold","angle":270,"color":"black","align":"center","baseline":"middle"},"encoding":{"text":{"field":"t"}}}
]},
{"width":1532,"height":1180,
"data":{"values":[{"fan":"#1","ma":"Ma=0.2","sc":0.0408},{"fan":"#1","ma":"Ma=0.3","sc":0.0695},{"fan":"#1","ma":"Ma=0.4","sc":0.0973},{"fan":"#1","ma":"Ma=0.5","sc":0.1352},{"fan":"#2","ma":"Ma=0.2","sc":0.0326},{"fan":"#2","ma":"Ma=0.3","sc":0.0494},{"fan":"#2","ma":"Ma=0.4","sc":0.087},{"fan":"#2","ma":"Ma=0.5","sc":0.1251},{"fan":"#3","ma":"Ma=0.2","sc":0.032},{"fan":"#3","ma":"Ma=0.3","sc":0.0379},{"fan":"#3","ma":"Ma=0.4","sc":0.0724},{"fan":"#3","ma":"Ma=0.5","sc":0.1076},{"fan":"#4","ma":"Ma=0.2","sc":0.0321},{"fan":"#4","ma":"Ma=0.3","sc":0.0487},{"fan":"#4","ma":"Ma=0.4","sc":0.0836},{"fan":"#4","ma":"Ma=0.5","sc":0.1152},{"fan":"#5","ma":"Ma=0.2","sc":0.0405},{"fan":"#5","ma":"Ma=0.3","sc":0.0682},{"fan":"#5","ma":"Ma=0.4","sc":0.095},{"fan":"#5","ma":"Ma=0.5","sc":0.1302}]},
"mark":{"type":"bar","stroke":"#222","strokeWidth":1},
"encoding":{
"x":{"field":"fan","type":"nominal","scale":{"paddingInner":0.2,"paddingOuter":0.1},"axis":{"title":"Fan number","titleX":755,"labelAngle":0,"labelFont":"Liberation Serif","labelFontSize":62,"labelColor":"#111","labelPadding":30,"tickBand":"extent","tickSize":-11,"tickColor":"#444","tickWidth":3,"domainColor":"#444","domainWidth":3,"titleFont":"Liberation Serif","titleFontSize":68,"titleFontWeight":"bold","titleColor":"black","titlePadding":43}},
"xOffset":{"field":"ma","type":"nominal"},
"y":{"field":"sc","type":"quantitative","scale":{"domain":[0,0.16],"nice":false},"axis":{"title":"SC","titleY":616,"titleX":-196,"values":[0,0.02,0.04,0.06,0.08,0.1,0.12,0.14,0.16],"labelExpr":"round(datum.value*100)%4==0?format(datum.value,'.2f'):''","grid":false,"tickSize":{"condition":{"test":"round(datum.value*100)%4!=0","value":-11},"value":-22},"tickColor":"#444","tickWidth":3,"domainColor":"#444","domainWidth":3,"labelFont":"Liberation Serif","labelFontSize":64,"labelColor":"#111","labelPadding":56,"titleFont":"Liberation Serif","titleFontSize":72,"titleFontWeight":"bold","titleFontStyle":"italic","titleColor":"black","titleAlign":"center","titleBaseline":"middle"}},
"color":{"field":"ma","type":"nominal","scale":{"domain":["Ma=0.2","Ma=0.3","Ma=0.4","Ma=0.5"],"range":["#000000","#ff0000","#00ff00","#0000ff"]},"legend":{"orient":"none","direction":"horizontal","legendX":712,"legendY":39,"columns":2,"title":null,"padding":0,"symbolType":"M-1 -1L3.1 -1L3.1 1L-1 1Z","symbolSize":3844,"symbolStrokeColor":"#222","symbolStrokeWidth":2,"symbolOpacity":1,"labelFont":"Liberation Serif","labelFontSize":66,"labelFontWeight":"bold","labelColor":"black","labelOffset":88,"labelLimit":400,"columnPadding":20,"rowPadding":22}}
}}
]}
